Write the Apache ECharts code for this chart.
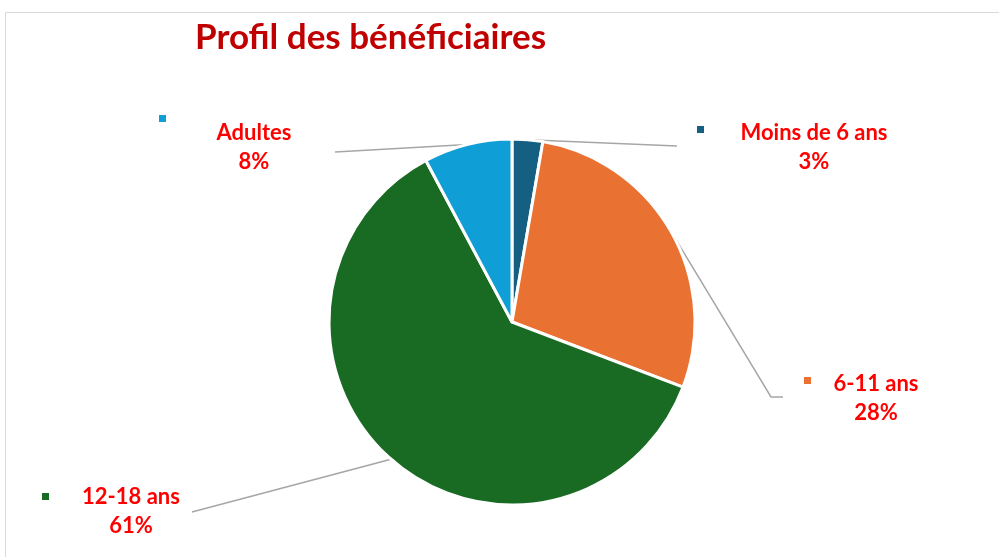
<!DOCTYPE html>
<html>
<head>
<meta charset="utf-8">
<script src="https://cdn.jsdelivr.net/npm/echarts@6/dist/echarts.min.js"></script>
<style>
  html, body { margin: 0; padding: 0; background: #fff; }
  #chart { width: 999px; height: 557px; }
</style>
</head>
<body>
<div id="chart"></div>
<script>
// données
var categories = ["Moins de 6 ans", "6-11 ans", "12-18 ans", "Adultes"];
var values = [2.7, 28.1, 61.4, 7.8];
var colors = ["#156082", "#E97132", "#196B24", "#0F9ED5"];

// position des étiquettes (centre du texte) et fin des traits de rappel
var labelPos = [[814, 147], [876, 398], [131, 511], [254, 147]];
var lineEnd = [[[677, 146]], [[771, 397], [783, 397]], [[192, 512]], [[335, 152]]];
// petits carrés de légende
var keyPos = [[695, 124], [802, 375], [40, 491], [157, 113]];

var legends = categories.map(function (name, i) {
  return {
    data: [name],
    left: keyPos[i][0],
    top: keyPos[i][1],
    padding: 0,
    icon: "rect",
    itemWidth: 9,
    itemHeight: 9,
    selectedMode: false,
    formatter: function () { return ""; }
  };
});

var chart = echarts.init(document.getElementById("chart"));
chart.setOption({
  animation: false,
  color: colors,
  title: {
    text: "Profil des bénéficiaires",
    left: 190,
    top: 15,
    textStyle: {
      color: "#C00000",
      fontFamily: "Lato",
      fontWeight: "bold",
      fontSize: 35
    }
  },
  graphic: [{
    type: "rect",
    shape: { x: 5.5, y: 12.5, width: 1200, height: 700 },
    style: { fill: "none", stroke: "#D9D9D9", lineWidth: 1 },
    silent: true
  }],
  legend: legends,
  series: [{
    type: "pie",
    center: [512, 322],
    radius: 183,
    startAngle: 90,
    data: categories.map(function (c, i) { return { name: c, value: values[i] }; }),
    itemStyle: { borderColor: "#fff", borderWidth: 3 },
    label: {
      show: true,
      position: "outside",
      formatter: function (p) { return p.name + "\n" + Math.round(p.percent) + "%"; },
      color: "#FF0000",
      fontFamily: "Lato",
      fontWeight: "bold",
      fontSize: 22,
      lineHeight: 29,
      align: "center"
    },
    labelLine: {
      show: true,
      length: 10,
      length2: 10,
      lineStyle: { color: "#A6A6A6", width: 1.5 }
    },
    labelLayout: function (params) {
      var i = params.dataIndex;
      var start = params.labelLinePoints ? params.labelLinePoints[0] : null;
      var pts = lineEnd[i];
      var linePts = start ? [start].concat(pts.length === 1 ? [pts[0], pts[0]] : pts) : undefined;
      return {
        x: labelPos[i][0],
        y: labelPos[i][1],
        align: "center",
        verticalAlign: "middle",
        labelLinePoints: linePts
      };
    }
  }]
});
</script>
</body>
</html>
